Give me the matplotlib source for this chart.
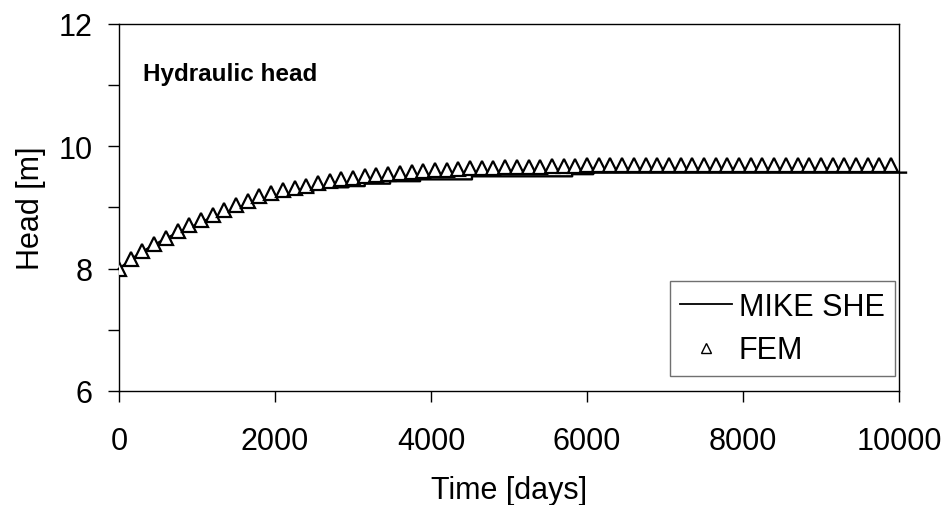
import matplotlib
matplotlib.use("Agg")
import matplotlib.pyplot as plt
from matplotlib.lines import Line2D
from matplotlib.ticker import MultipleLocator

plt.rcParams['font.family'] = ['Liberation Sans', 'DejaVu Sans']

# FEM solution, sampled every 150 days
fem_days = [i * 150 for i in range(67)]
fem_head = [
    8.00, 8.16, 8.29, 8.40, 8.50, 8.62, 8.72, 8.79, 8.87, 8.96,
    9.04, 9.11, 9.18, 9.23, 9.28, 9.32, 9.35, 9.40, 9.44, 9.46,
    9.49, 9.51, 9.53, 9.54, 9.56, 9.58, 9.59, 9.61, 9.62, 9.63,
    9.64, 9.645, 9.65, 9.655, 9.66, 9.665, 9.67, 9.675, 9.68, 9.685,
    9.69, 9.69, 9.69, 9.69, 9.69, 9.69, 9.69, 9.69, 9.69, 9.69,
    9.69, 9.69, 9.69, 9.69, 9.69, 9.69, 9.69, 9.69, 9.69, 9.69,
    9.69, 9.69, 9.69, 9.69, 9.69, 9.69, 9.69,
]

# MIKE SHE output (stepped where the model reports coarse head changes)
mike_days = [
    0, 75, 230, 370, 525, 675, 820, 975, 1125, 1280, 1420, 1570, 1720,
    1870, 2020, 2170, 2320, 2490, 2490, 2640, 2640, 2940, 2940, 3150,
    3150, 3475, 3475, 3860, 3860, 4525, 4525, 5810, 5810, 6080, 6080, 10090,
]
mike_head = [
    8.00, 8.07, 8.22, 8.33, 8.44, 8.54, 8.63, 8.71, 8.80, 8.87, 8.94, 9.02, 9.08,
    9.13, 9.18, 9.22, 9.24, 9.24, 9.29, 9.29, 9.33, 9.33, 9.35, 9.35,
    9.39, 9.39, 9.43, 9.43, 9.46, 9.46, 9.51, 9.51, 9.545, 9.545, 9.57, 9.57,
]

x_ticks = [0, 2000, 4000, 6000, 8000, 10000]
y_ticks = [6, 8, 10, 12]

fig = plt.figure(figsize=(9.47, 5.06), dpi=100)
ax = fig.add_axes([0.1257, 0.2253, 0.8236, 0.7253])

ax.plot(mike_days, mike_head, color='black', lw=1.7, clip_on=False, zorder=2)
ax.plot(fem_days, fem_head, linestyle='none', marker='^', ms=10,
        mfc='white', mec='black', mew=1.6, zorder=3)

ax.set_xlim(0, 10000)
ax.set_ylim(6, 12)
ax.set_xticks(x_ticks)
ax.set_yticks(y_ticks)
ax.yaxis.set_minor_locator(MultipleLocator(1))
ax.tick_params(axis='both', which='both', direction='out', length=8,
               width=1, labelsize=22, color='black')
ax.tick_params(axis='x', pad=17)
ax.tick_params(axis='y', pad=11)
for s in ax.spines.values():
    s.set_color('black')
    s.set_linewidth(1.0)

ax.set_xlabel('Time [days]', fontsize=22, labelpad=14)
ax.set_ylabel('Head [m]', fontsize=22, labelpad=9)

ax.text(0.031, 0.866, 'Hydraulic head', transform=ax.transAxes,
        fontsize=17.5, fontweight='bold', va='center', ha='left')

handles = [
    Line2D([], [], color='black', lw=1.3),
    Line2D([], [], linestyle='none', marker='^', ms=7, mfc='white',
           mec='black', mew=1.0),
]
leg = ax.legend(handles, ['MIKE SHE', 'FEM'], loc='lower right',
                bbox_to_anchor=(0.995, 0.041), fontsize=22, frameon=True,
                fancybox=False, edgecolor='#707070', framealpha=1,
                handlelength=1.7, handletextpad=0.2, borderpad=0.35,
                labelspacing=0.45, borderaxespad=0)
leg.get_frame().set_linewidth(1.0)

fig.savefig('out.png', dpi=100)
